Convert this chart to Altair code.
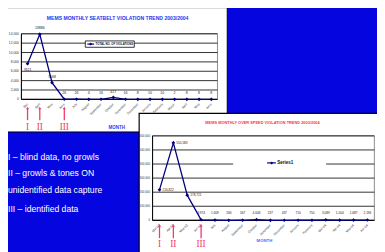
import altair as alt
import pandas as pd

# ---------------- data ----------------
months1 = ["Mar", "April", "May", "June", "July", "August", "September", "October",
           "November", "December", "January", "February", "March", "April", "May", "June"]
seatbelt = [7621, 13886, 3568, 26, 26, 4, 16, 417, 16, 8, 10, 10, 2, 8, 8, 8]
ticks1 = [0, 2000, 4000, 6000, 8000, 10000, 12000, 14000]

months2 = ["Mar-03", "Apr-03", "May-03", "Jun-03", "July", "August", "September", "October",
           "November", "December", "January", "February", "Mar-04", "Apr-04", "May-04", "Jun-04"]
overspeed = [216822, 550583, 178721, 3974, 1609, 266, 567, 4646, 237, 437, 710, 750,
             3089, 1004, 1687, 2196]
ticks2 = [0, 100000, 200000, 300000, 400000, 500000, 600000]

phase_idx = [0, 1, 3]
phase_lab = ["I", "II", "III"]

notes = ["I \u2013 blind data, no growls", "II \u2013 growls & tones ON",
         "unidentified data capture", "III \u2013 identified data"]
title1 = "MEMS MONTHLY SEATBELT VIOLATION TREND 2003/2004"
title2 = "MEMS MONTHLY OVER SPEED VIOLATION TREND 2003/2004"
legend1 = "TOTAL NO. OF VIOLATIONS"
legend2 = "Series1"

# ---------------- style ----------------
BG = "#0505E0"
NAVY = "#000080"
RED = "#F23A66"
FONT = "Liberation Sans"
W, H = 377, 244


def cx(X):
    return X - 8


def cy(Y):
    return Y - 8


one = pd.DataFrame({"k": [0]})


def box(x0, y0, x1, y1, fill="white", stroke=None, sw=0, opacity=1):
    kw = dict(fill=fill, strokeWidth=sw, fillOpacity=opacity)
    if stroke:
        kw["stroke"] = stroke
    return alt.Chart(one).mark_rect(**kw).encode(
        x=alt.value(cx(x0)), x2=alt.value(cx(x1)),
        y=alt.value(cy(y0)), y2=alt.value(cy(y1)))


def hline(x0, x1, Y, color, sw=1):
    return alt.Chart(one).mark_rule(color=color, strokeWidth=sw).encode(
        x=alt.value(cx(x0)), x2=alt.value(cx(x1)), y=alt.value(cy(Y)))


def vline(X, y0, y1, color, sw=1):
    return alt.Chart(one).mark_rule(color=color, strokeWidth=sw).encode(
        x=alt.value(cx(X)), y=alt.value(cy(y0)), y2=alt.value(cy(y1)))


def label(text, X, Y, **kw):
    kw.setdefault("font", FONT)
    kw.setdefault("baseline", "middle")
    return alt.Chart(one).mark_text(text=text, **kw).encode(
        x=alt.value(cx(X)), y=alt.value(cy(Y)))


def panel(months, values, ticks, ymax, X0, X1, Yb, Yt, tick_fs, lab_fs, lab_fmt,
          first_right, arrow_top, arrow_bot, num_y):
    df = pd.DataFrame({"i": list(range(len(values))), "v": values, "m": months})
    dt = pd.DataFrame({"t": ticks})
    da = pd.DataFrame({"i": phase_idx, "r": phase_lab})
    xs = alt.Scale(domain=[-0.5, len(values) - 0.5], range=[cx(X0), cx(X1)], nice=False, zero=False)
    ys = alt.Scale(domain=[0, ymax], range=[cy(Yb), cy(Yt)], nice=False, zero=False)
    X = alt.X("i:Q", scale=xs, axis=None)
    Y = alt.Y("v:Q", scale=ys, axis=None)

    border = box(X0, Yt, X1, Yb, fill="white", stroke="#8a8a8a", sw=1)
    grid = alt.Chart(dt).mark_rule(color="#1a1a1a", strokeWidth=0.9).encode(
        y=alt.Y("t:Q", scale=ys, axis=None), x=alt.value(cx(X0)), x2=alt.value(cx(X1)))
    ylab = alt.Chart(dt).mark_text(align="right", baseline="middle", fontSize=tick_fs,
                                   font=FONT, color="#333").encode(
        y=alt.Y("t:Q", scale=ys, axis=None), x=alt.value(cx(X0 - 2.5)),
        text=alt.Text("t:Q", format=","))
    yaxis = vline(X0, Yt, Yb, "black", 1)
    xaxis = hline(X0, X1, Yb, "black", 1)
    xlab = alt.Chart(df).mark_text(align="right", baseline="middle", angle=315,
                                   fontSize=3.2, font=FONT, color="#333").encode(
        x=X, y=alt.value(cy(Yb + 4.5)), text="m:N")
    line = alt.Chart(df).mark_line(color=NAVY, strokeWidth=1.3).encode(x=X, y=Y)
    pts = alt.Chart(df).mark_point(shape="diamond", filled=True, size=14, color=NAVY,
                                   opacity=1).encode(x=X, y=Y)
    if first_right:
        big = alt.Chart(df).transform_filter("datum.i < 3").mark_text(
            align="left", baseline="middle", dx=3, fontSize=lab_fs, font=FONT, color="#222").encode(
            x=X, y=Y, text=alt.Text("v:Q", format=lab_fmt))
        small = alt.Chart(df).transform_filter("datum.i >= 3").mark_text(
            align="center", baseline="bottom", dy=-5, fontSize=lab_fs, font=FONT, color="#222").encode(
            x=X, y=Y, text=alt.Text("v:Q", format=lab_fmt))
    else:
        big = alt.Chart(df).transform_filter("datum.i == 0").mark_text(
            align="center", baseline="top", dy=4, fontSize=lab_fs, font=FONT, color="#222").encode(
            x=X, y=Y, text=alt.Text("v:Q", format=lab_fmt))
        small = alt.Chart(df).transform_filter("datum.i > 0").mark_text(
            align="center", baseline="bottom", dy=-4, fontSize=lab_fs, font=FONT, color="#222").encode(
            x=X, y=Y, text=alt.Text("v:Q", format=lab_fmt))
    arrow = alt.Chart(da).mark_rule(color=RED, strokeWidth=1.3).encode(
        x=X, y=alt.value(cy(arrow_bot)), y2=alt.value(cy(arrow_top + 2)))
    head = alt.Chart(da).mark_point(shape="triangle-up", filled=True, size=10, color=RED,
                                    opacity=1).encode(x=X, y=alt.value(cy(arrow_top + 1.5)))
    roman = alt.Chart(da).mark_text(font="Liberation Serif", fontSize=9.5, color=RED,
                                    baseline="middle").encode(
        x=X, y=alt.value(cy(num_y)), text="r:N")
    return [border, grid, yaxis, xaxis, ylab, xlab, line, pts, big, small, arrow, head, roman]


p1 = panel(months1, seatbelt, ticks1, 14000, 21.7, 222, 98.7, 31.7, 3.4, 3.6, "d",
           False, 106, 120, 127)
p2 = panel(months2, overspeed, ticks2, 600000, 155.7, 382.3, 222.3, 136, 3.0, 3.2, ",",
           True, 226, 240.5, 246.7)

layers = []
# panel 1
layers.append(box(6, 5, 232, 132, fill="white", stroke="black", sw=1))
layers.append(label(title1, 120, 16, fontSize=5.2, fontWeight="bold", color="#2233EE"))
layers += p1
layers.append(box(87, 39, 137, 45.5, fill="white", stroke="black", sw=0.8))
layers.append(hline(89, 96, 42.2, NAVY, 1.2))
layers.append(label("\u25c6", 92.5, 42.2, fontSize=4, color=NAVY, align="center"))
layers.append(label(legend1, 97.5, 42.4, fontSize=2.9, fontWeight="bold", color="#111", align="left"))
layers.append(label("MONTH", 119, 127.7, fontSize=4.6, fontWeight="bold", color="#2a3cff"))
# panel 2
layers.append(box(142, 113, 392, 260, fill="white", stroke="black", sw=1.2))
layers.append(label(title2, 268, 123.3, fontSize=4.0, fontWeight="bold", color="#FF3340"))
layers += p2
layers.append(box(238, 160.5, 333, 167.5, fill="white"))
layers.append(hline(272.7, 281.7, 163.6, NAVY, 1.2))
layers.append(label("\u25c6", 277.2, 163.6, fontSize=4.5, color=NAVY, align="center"))
layers.append(label(legend2, 283, 163.8, fontSize=4.6, fontWeight="bold", color="#111", align="left"))
layers.append(label("MONTH", 270, 243.7, fontSize=4.4, fontWeight="bold", color="#5566ff"))
# notes on the blue background
for txt, Y in zip(notes, [157.3, 174, 191.7, 211]):
    layers.append(label(txt, 8, Y, fontSize=8.8, color="white", align="left"))

chart = alt.layer(*layers).resolve_scale(x="independent", y="independent").properties(
    width=W, height=H, autosize=alt.AutoSizeParams(type="none"), padding=0,
    background=BG
).configure_view(strokeWidth=0)

chart.save("out.html", embed_options={"renderer": "svg", "actions": False})
